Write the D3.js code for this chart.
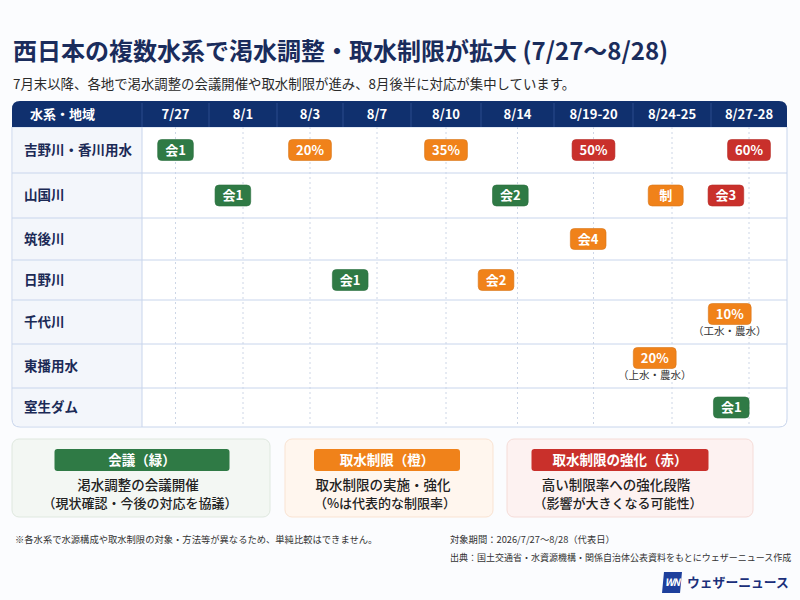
<!DOCTYPE html>
<html>
<head>
<meta charset="utf-8">
<script src="https://cdn.jsdelivr.net/npm/d3@7"></script>
<style>
  body { margin: 0; background: #fbfcfe; }
  svg { font-family: "Noto Sans CJK JP", "Noto Sans", sans-serif; }
</style>
</head>
<body>
<svg id="chart" width="800" height="600"></svg>
<script>
// data
const rivers = ['吉野川・香川用水', '山国川', '筑後川', '日野川', '千代川', '東播用水', '室生ダム'];
const dates = ['7/27', '8/1', '8/3', '8/7', '8/10', '8/14', '8/19-20', '8/24-25', '8/27-28'];

// [river, column position (fractional), label, type, note]
const events = [
    ['吉野川・香川用水', 0, '会1', 'meet', ''],
    ['吉野川・香川用水', 2, '20%', 'limit', ''],
    ['吉野川・香川用水', 4, '35%', 'limit', ''],
    ['吉野川・香川用水', 6, '50%', 'strong', ''],
    ['吉野川・香川用水', 8, '60%', 'strong', ''],
    ['山国川', 0.85, '会1', 'meet', ''],
    ['山国川', 4.9, '会2', 'meet', ''],
    ['山国川', 6.92, '制', 'limit', ''],
    ['山国川', 7.7, '会3', 'strong', ''],
    ['筑後川', 5.93, '会4', 'limit', ''],
    ['日野川', 2.6, '会1', 'meet', ''],
    ['日野川', 4.7, '会2', 'limit', ''],
    ['千代川', 7.75, '10%', 'limit', '（工水・農水）'],
    ['東播用水', 6.78, '20%', 'limit', '（上水・農水）'],
    ['室生ダム', 7.77, '会1', 'meet', '']
];

const legendTitles = ['会議（緑）', '取水制限（橙）', '取水制限の強化（赤）'];
const legendLine1 = ['渇水調整の会議開催', '取水制限の実施・強化', '高い制限率への強化段階'];
const legendLine2 = ['（現状確認・今後の対応を協議）', '（%は代表的な制限率）', '（影響が大きくなる可能性）'];

const title = '西日本の複数水系で渇水調整・取水制限が拡大 (7/27〜8/28)';
const subtitle = '7月末以降、各地で渇水調整の会議開催や取水制限が進み、8月後半に対応が集中しています。';
const note = '※各水系で水源構成や取水制限の対象・方法等が異なるため、単純比較はできません。';
const period = '対象期間：2026/7/27〜8/28（代表日）';
const source = '出典：国土交通省・水資源機構・関係自治体公表資料をもとにウェザーニュース作成';

// layout
const colors = { meet: '#2f7a45', limit: '#f0821a', strong: '#c9302b' };
const navy = '#10306e';
const table = { x: 12, y: 101, labelW: 130, headH: 26 };
const colW = [67, 68, 66, 68, 70, 73, 79, 78, 76];
const rowH = [46, 45, 42, 40, 44, 44, 39];

const svg = d3.select('#chart');

svg.append('text').attr('x', 13).attr('y', 60)
    .attr('font-size', 24).attr('font-weight', 700).attr('fill', '#1a2c5c')
    .text(title);
svg.append('text').attr('x', 13).attr('y', 89)
    .attr('font-size', 13.4).attr('fill', '#2a2a2a')
    .text(subtitle);

// column geometry
const colEdges = [table.x + table.labelW];
colW.forEach(w => colEdges.push(colEdges[colEdges.length - 1] + w));
const colCenters = colW.map((w, i) => colEdges[i] + w / 2);
const tableRight = colEdges[colEdges.length - 1];
const x = d3.scaleLinear().domain(d3.range(dates.length)).range(colCenters);

const rowEdges = [table.y + table.headH];
rowH.forEach(h => rowEdges.push(rowEdges[rowEdges.length - 1] + h));
const tableBottom = rowEdges[rowEdges.length - 1];
const y = d3.scaleOrdinal().domain(rivers).range(rivers.map((r, i) => (rowEdges[i] + rowEdges[i + 1]) / 2));

// table body background with rounded bottom
const r = 8;
const bodyPath = `M${table.x},${table.y + table.headH} H${tableRight} V${tableBottom - r} Q${tableRight},${tableBottom} ${tableRight - r},${tableBottom} H${table.x + r} Q${table.x},${tableBottom} ${table.x},${tableBottom - r} Z`;
svg.append('path').attr('d', bodyPath).attr('fill', '#fff');
svg.append('rect')
    .attr('x', table.x + 1).attr('y', table.y + table.headH)
    .attr('width', table.labelW - 1).attr('height', tableBottom - table.y - table.headH - 1)
    .attr('fill', '#f3f6fb');
svg.append('line')
    .attr('x1', colEdges[0]).attr('x2', colEdges[0])
    .attr('y1', table.y + table.headH).attr('y2', tableBottom)
    .attr('stroke', '#c8d5ec');

// dashed guides
svg.append('g').selectAll('line').data(colCenters).join('line')
    .attr('x1', d => d).attr('x2', d => d)
    .attr('y1', table.y + table.headH).attr('y2', tableBottom - 2)
    .attr('stroke', '#cdd6e6').attr('stroke-dasharray', '2,3');

// row separators
svg.append('g').selectAll('line').data(rowEdges.slice(1, -1)).join('line')
    .attr('x1', table.x).attr('x2', tableRight)
    .attr('y1', d => d).attr('y2', d => d)
    .attr('stroke', '#c8d5ec');

svg.append('path').attr('d', bodyPath).attr('fill', 'none').attr('stroke', '#c8d5ec');

// header
const headPath = `M${table.x},${table.y + table.headH} V${table.y + r} Q${table.x},${table.y} ${table.x + r},${table.y} H${tableRight - r} Q${tableRight},${table.y} ${tableRight},${table.y + r} V${table.y + table.headH} Z`;
svg.append('path').attr('d', headPath).attr('fill', navy);
svg.append('g').selectAll('line').data(colEdges.slice(0, -1)).join('line')
    .attr('x1', d => d).attr('x2', d => d)
    .attr('y1', table.y + 2).attr('y2', table.y + table.headH)
    .attr('stroke', '#2a4a8c');
svg.append('text').attr('x', 30).attr('y', table.y + table.headH / 2)
    .attr('dy', '0.35em').attr('font-size', 13).attr('font-weight', 700).attr('fill', '#fff')
    .text('水系・地域');
svg.append('g').selectAll('text').data(dates).join('text')
    .attr('x', (d, i) => x(i)).attr('y', table.y + table.headH / 2)
    .attr('dy', '0.35em').attr('text-anchor', 'middle')
    .attr('font-size', 13).attr('font-weight', 700).attr('fill', '#fff')
    .text(d => d);

// row labels
svg.append('g').selectAll('text').data(rivers).join('text')
    .attr('x', 24).attr('y', d => y(d))
    .attr('dy', '0.35em').attr('font-size', 13.5).attr('font-weight', 700).attr('fill', '#1b2a56')
    .text(d => d);

// markers
const mk = svg.append('g').selectAll('g').data(events).join('g')
    .attr('transform', d => `translate(${x(d[1])},${y(d[0]) - (d[4] ? 8 : 0)})`);
mk.append('rect')
    .attr('y', -10.5).attr('height', 21).attr('rx', 4)
    .attr('fill', d => colors[d[3]])
    .attr('stroke', d => d3.color(colors[d[3]]).darker(0.3)).attr('stroke-width', 0.6);
mk.append('text')
    .attr('text-anchor', 'middle').attr('dy', '0.36em')
    .attr('font-size', 13).attr('font-weight', 700).attr('fill', '#fff')
    .text(d => d[2]);
mk.each(function () {
    const g = d3.select(this);
    const w = Math.max(35, g.select('text').node().getComputedTextLength() + 15);
    g.select('rect').attr('x', -w / 2).attr('width', w);
});
mk.filter(d => d[4]).append('text')
    .attr('y', 21).attr('text-anchor', 'middle')
    .attr('font-size', 10.5).attr('fill', '#333')
    .text(d => d[4]);

// legend
const legX = [12, 285, 507];
const legW = [258, 208, 246];
const legCx = [130, 102, 113];
const pillW = [175, 146, 177];
const legBg = ['#f3f7f3', '#fff6ee', '#fdf2f1'];
const legBorder = ['#dfe8df', '#f9e3d2', '#f5dcd8'];
const legTypes = ['meet', 'limit', 'strong'];
const leg = svg.append('g').selectAll('g').data(legendTitles).join('g')
    .attr('transform', (d, i) => `translate(${legX[i]},439)`);
leg.append('rect')
    .attr('width', (d, i) => legW[i]).attr('height', 78).attr('rx', 7)
    .attr('fill', (d, i) => legBg[i]).attr('stroke', (d, i) => legBorder[i]);
leg.append('rect')
    .attr('x', (d, i) => legCx[i] - pillW[i] / 2).attr('width', (d, i) => pillW[i])
    .attr('y', 10).attr('height', 22).attr('rx', 3)
    .attr('fill', (d, i) => colors[legTypes[i]]);
leg.append('text')
    .attr('x', (d, i) => legCx[i]).attr('y', 21)
    .attr('text-anchor', 'middle').attr('dy', '0.36em')
    .attr('font-size', 13.5).attr('font-weight', 700).attr('fill', '#fff')
    .text(d => d);
leg.append('text')
    .attr('x', (d, i) => legCx[i] - 4).attr('y', 46)
    .attr('text-anchor', 'middle').attr('dy', '0.36em')
    .attr('font-size', 13.5).attr('font-weight', 500).attr('fill', '#222')
    .text((d, i) => legendLine1[i]);
leg.append('text')
    .attr('x', (d, i) => legCx[i] - 2).attr('y', 64)
    .attr('text-anchor', 'middle').attr('dy', '0.36em')
    .attr('font-size', 13).attr('font-weight', 500).attr('fill', '#222')
    .text((d, i) => legendLine2[i]);

// footer
svg.append('text').attr('x', 15).attr('y', 543)
    .attr('font-size', 9.3).attr('fill', '#333').text(note);
svg.append('text').attr('x', 450).attr('y', 543)
    .attr('font-size', 9.3).attr('fill', '#333').text(period);
svg.append('text').attr('x', 450).attr('y', 561)
    .attr('font-size', 9).attr('fill', '#333').text(source);

// logo
const logo = svg.append('g').attr('transform', 'translate(662,572)');
logo.append('path').attr('d', 'M2,0 H20 L18,21 H0 Z').attr('fill', '#1d3f9c');
logo.append('text').attr('x', 10).attr('y', 14).attr('text-anchor', 'middle')
    .attr('font-size', 10).attr('font-weight', 700).attr('font-style', 'italic')
    .attr('fill', '#fff').attr('letter-spacing', -1).text('WN');
logo.append('text').attr('x', 25).attr('y', 15)
    .attr('font-size', 12.8).attr('font-weight', 700).attr('fill', '#1a2f7a')
    .text('ウェザーニュース');
</script>
</body>
</html>
